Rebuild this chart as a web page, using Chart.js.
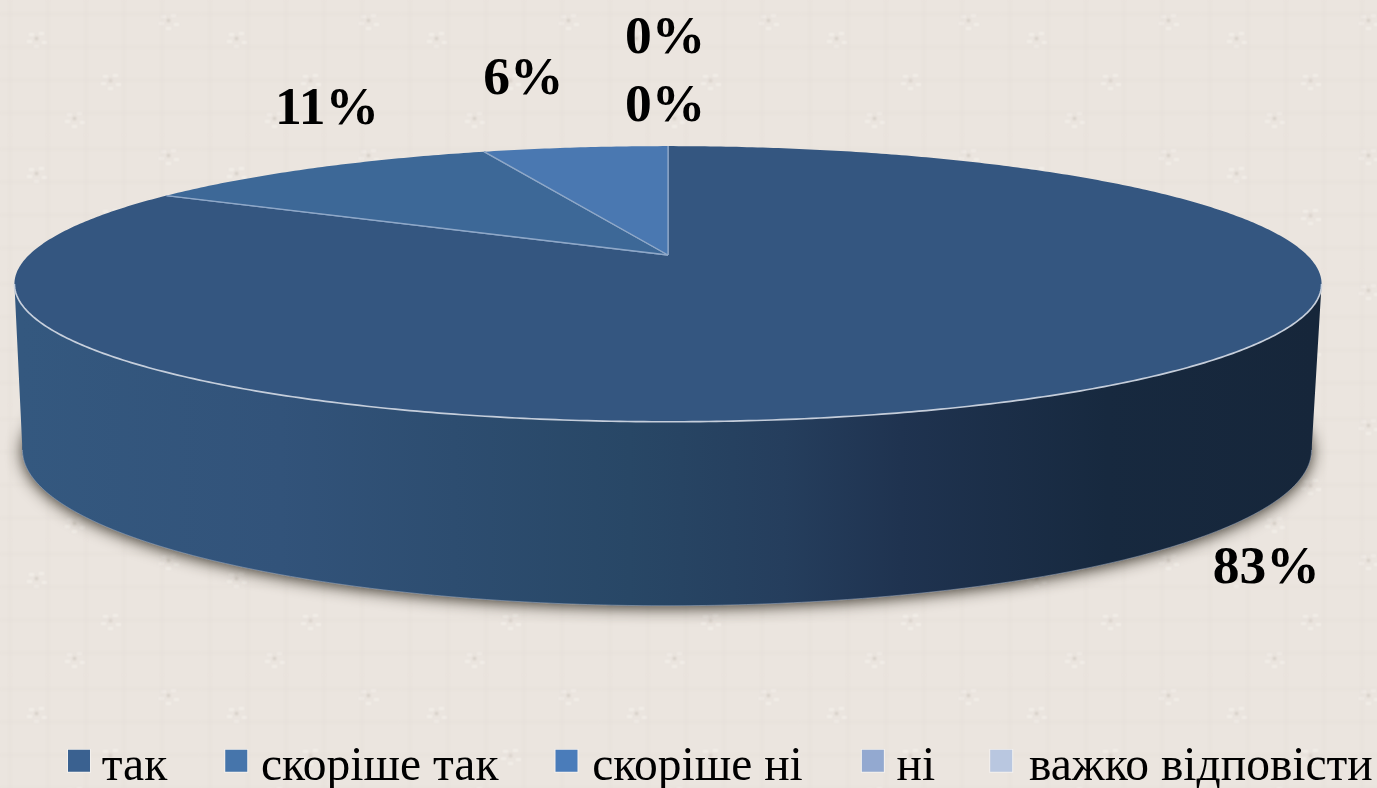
<!DOCTYPE html>
<html><head><meta charset="utf-8">
<script src="https://cdn.jsdelivr.net/npm/chart.js@4"></script>
<style>html,body{margin:0;padding:0;width:1377px;height:788px;overflow:hidden;background:#ebe5df}canvas{display:block}</style>
</head><body><canvas id="c" width="1377" height="788"></canvas>
<script>
const categories = ['так','скоріше так','скоріше ні','ні','важко відповісти'];
const shares = [83.3, 11.1, 5.6, 0, 0];
const sliceColors = ['#345680','#3d6897','#4a78b1','#8ea5cf','#b9c7e0'];
const legendColors = ['#3a6190','#4675ab','#4a7cba','#93a9d0','#b9c7e0'];
const legendBoxNudge = [0,-2,-3,-1,-5];
const labelOffsets = [[207,172],[14,-61],[-52,-70],[-3,-42],[-3,-110]];

// Tilted-disc projection of the pie's unit circle
const VIEW = {cx:668, apexY:255, a:78.2, c:-0.21, d:639, lowCx:667, lowCy:450, topCy:284, lowX:645/654, lowY:156/138};
function project(ang){
  const x=Math.cos(ang), y=Math.sin(ang), w=1+VIEW.c*y;
  return {x:VIEW.cx+VIEW.d*x/w, y:(VIEW.a*y+VIEW.apexY)/w};
}
function lower(p){
  return {x:VIEW.lowCx+(p.x-VIEW.cx)*VIEW.lowX, y:VIEW.lowCy+(p.y-VIEW.topCy)*VIEW.lowY};
}
const FRONT_A = Math.asin(-VIEW.c);            // right-hand silhouette
const FRONT_B = Math.PI - FRONT_A;             // left-hand silhouette
function rimPath(ctx,a0,a1,map,move){
  const n=Math.max(2,Math.ceil(Math.abs(a1-a0)/0.01));
  for(let i=0;i<=n;i++){
    let p=project(a0+(a1-a0)*i/n); if(map)p=map(p);
    if(i===0&&move)ctx.moveTo(p.x,p.y); else ctx.lineTo(p.x,p.y);
  }
}
Chart.ArcElement.prototype.draw=function(ctx){
  const s=this.startAngle,e=this.endAngle;
  if(e-s<=1e-6)return;
  ctx.save();
  if(this.$context&&this.$context.index===0){
    // ground shadow of the disc
    ctx.save();
    ctx.shadowColor='rgba(45,40,30,0.95)';ctx.shadowBlur=16;ctx.shadowOffsetY=2;ctx.fillStyle='#2a4465';
    ctx.beginPath();rimPath(ctx,0,Math.PI*2,lower,true);ctx.closePath();ctx.fill();
    ctx.restore();
  }
  // visible outer wall
  const a0=Math.max(s,FRONT_A),a1=Math.min(e,FRONT_B);
  if(a1>a0){
    const g=ctx.createLinearGradient(22,0,1314,0);
    g.addColorStop(0,'#34587f');g.addColorStop(0.2,'#32537a');g.addColorStop(0.47,'#284766');g.addColorStop(0.59,'#253e5d');
    g.addColorStop(0.68,'#1f3350');g.addColorStop(0.84,'#17293f');g.addColorStop(1,'#16263a');
    ctx.fillStyle=g;
    ctx.beginPath();rimPath(ctx,a0,a1,null,true);rimPath(ctx,a1,a0,lower,false);ctx.closePath();ctx.fill();
    ctx.strokeStyle='rgba(190,200,215,0.45)';ctx.lineWidth=1;
    ctx.beginPath();rimPath(ctx,a0,a1,lower,true);ctx.stroke();
  }
  // top face
  ctx.fillStyle=this.options.backgroundColor;
  ctx.beginPath();ctx.moveTo(VIEW.cx,VIEW.apexY);rimPath(ctx,s,e,null,false);ctx.closePath();ctx.fill();
  // slice dividers and front rim highlight
  ctx.strokeStyle='#8fa8c8';ctx.lineWidth=1.3;
  ctx.beginPath();ctx.moveTo(VIEW.cx,VIEW.apexY);let p=project(s);ctx.lineTo(p.x,p.y);
  ctx.moveTo(VIEW.cx,VIEW.apexY);p=project(e);ctx.lineTo(p.x,p.y);ctx.stroke();
  if(a1>a0){
    ctx.strokeStyle='rgba(205,213,224,0.95)';ctx.lineWidth=1.7;
    ctx.beginPath();rimPath(ctx,a0,a1,null,true);ctx.stroke();
  }
  ctx.restore();
};

function legendBox(color,nudge){
  const c=document.createElement('canvas');c.width=96;c.height=37;
  const x=c.getContext('2d');
  x.fillStyle='#f4f1ee';x.fillRect(72+nudge,0,24,24);
  x.fillStyle=color;x.fillRect(73+nudge,1,22,22);
  return c;
}
const valueLabels={id:'valueLabels',afterDatasetsDraw(chart){
  const ctx=chart.ctx,meta=chart.getDatasetMeta(0);
  ctx.save();ctx.font='bold 53.5px "Liberation Serif"';ctx.fillStyle='#000';ctx.textAlign='center';ctx.textBaseline='middle';
  meta.data.forEach((el,i)=>{
    const p=project((el.startAngle+el.endAngle)/2);
    ctx.fillText(Math.round(shares[i])+'%',p.x+labelOffsets[i][0],p.y+labelOffsets[i][1]+3);
  });
  ctx.restore();
}};

// paper texture
(function(){
  const t=document.createElement('canvas');t.width=200;t.height=135;const x=t.getContext('2d');
  x.fillStyle='#ebe5df';x.fillRect(0,0,200,135);
  x.filter='blur(1.2px)';
  const motifs=[[36,38],[110,80],[168,20],[74,118]];
  motifs.forEach(([mx,my])=>{
    x.fillStyle='rgba(248,245,241,.55)';
    [[-7,-5],[3,-6],[-9,2],[6,3],[-2,7]].forEach(([dx,dy])=>x.fillRect(mx+dx,my+dy,5,3));
    x.fillStyle='rgba(175,165,155,.4)';x.fillRect(mx-1,my-1,3,3);
  });
  x.strokeStyle='rgba(228,221,214,.45)';x.lineWidth=2;
  for(let i=10;i<200;i+=38){x.beginPath();x.moveTo(i,0);x.lineTo(i,135);x.stroke();}
  for(let j=14;j<135;j+=33){x.beginPath();x.moveTo(0,j);x.lineTo(200,j);x.stroke();}
  document.body.style.backgroundImage='url('+t.toDataURL()+')';
})();

new Chart(document.getElementById('c'),{
  type:'pie',
  data:{labels:categories,datasets:[{data:shares,backgroundColor:sliceColors,borderWidth:0}]},
  plugins:[valueLabels],
  options:{
    responsive:false,animation:false,
    layout:{padding:{left:8,bottom:-13}},
    plugins:{
      tooltip:{enabled:false},
      legend:{position:'bottom',align:'start',labels:{
        padding:0,boxWidth:70,usePointStyle:true,pointStyleWidth:70,color:'#000',
        font:{family:'"Liberation Serif"',size:47.5},
        generateLabels:()=>categories.map((t,i)=>({text:t,pointStyle:legendBox(legendColors[i],legendBoxNudge[i]),fillStyle:legendColors[i],strokeStyle:legendColors[i],lineWidth:0,hidden:false,index:i,fontColor:'#000'}))
      }}
    }
  }
});
</script></body></html>
